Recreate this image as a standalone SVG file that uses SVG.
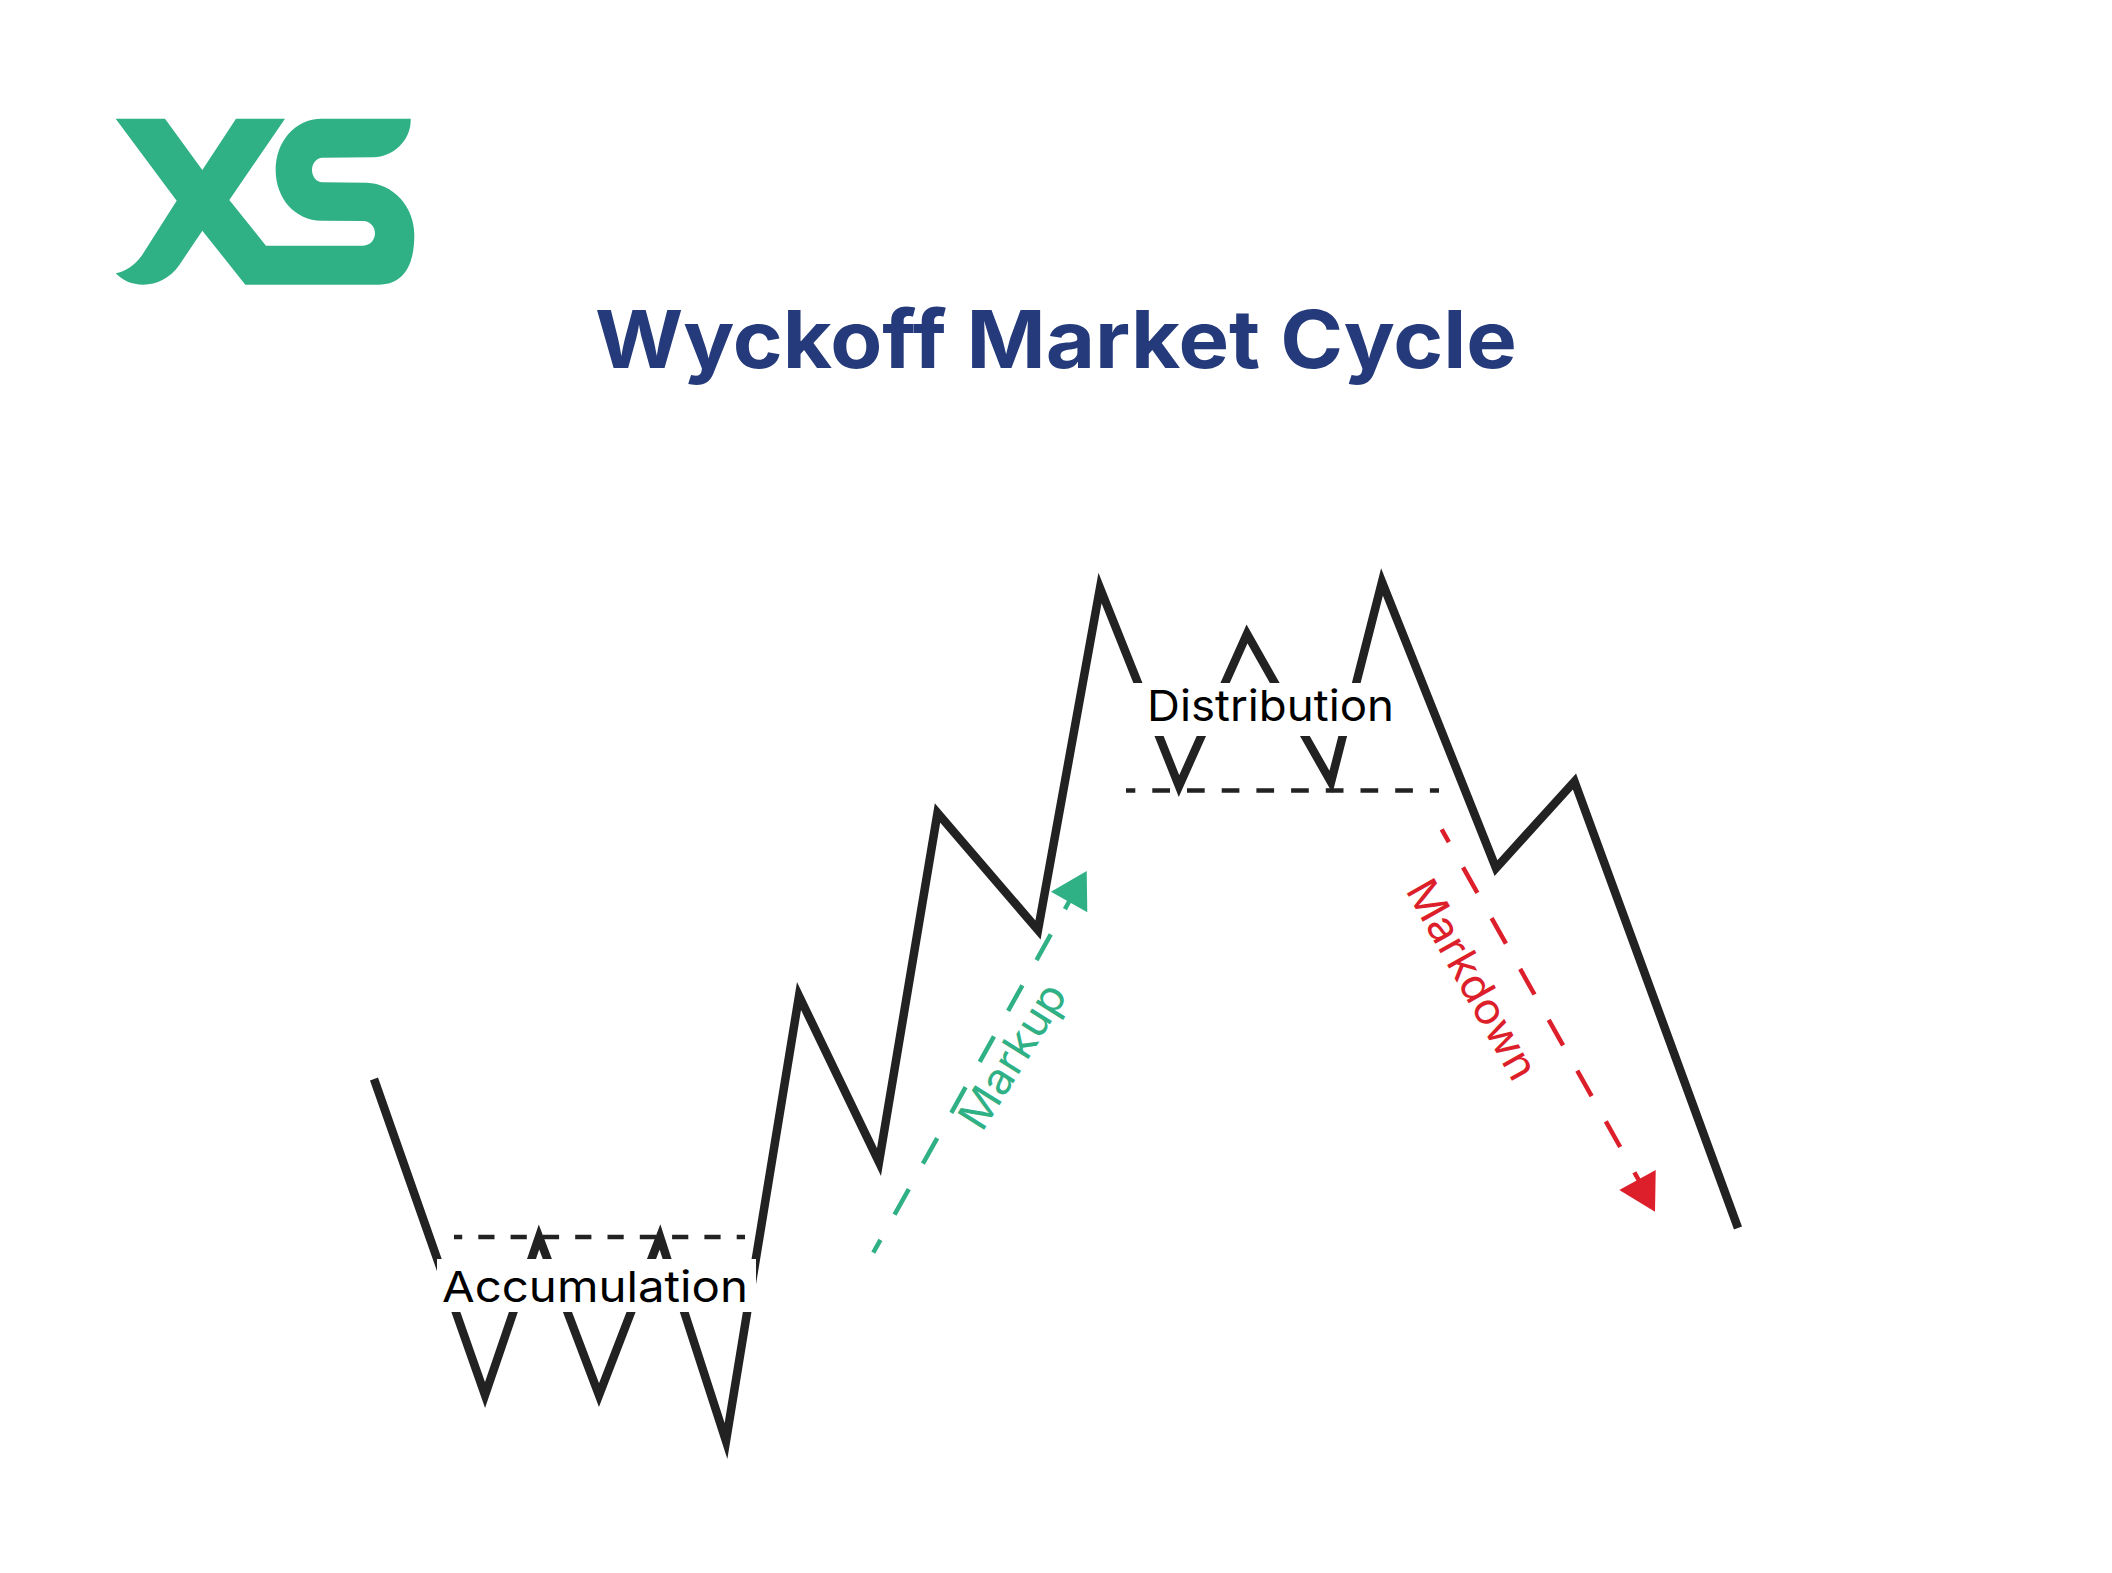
<svg xmlns="http://www.w3.org/2000/svg" width="2112" height="1573" viewBox="0 0 2112 1573">
<style>
.price{fill:none;stroke:#222222;stroke-width:8.5;stroke-linejoin:miter;stroke-miterlimit:12}
.level{fill:none;stroke:#222222;stroke-width:4.5}
.up{fill:none;stroke:#30b085;stroke-width:4.5;stroke-dasharray:29.3 29;stroke-dashoffset:14.7}
.down{fill:none;stroke:#dc1f2a;stroke-width:4.5;stroke-dasharray:29.3 29;stroke-dashoffset:14.7}
.label{font-family:"Inter","Liberation Sans",sans-serif;font-size:43px;font-weight:400}
.title{font-family:"Inter","Liberation Sans",sans-serif;font-size:80px;font-weight:700;fill:#253a7a}
</style>
<rect width="2112" height="1573" fill="#ffffff"/>
<g id="logo"><path transform="translate(90 90) scale(.33333)" fill="#30b085" d="M77 86L225 86L337 240L438 86L585 86L418 330L528 467L820 467C840 467 855 450 855 430C855 410 840 393 820 393L695 392C615 392 557 325 557 240C557 155 615 86 695 86L962 86C965 150 910 202 850 202L697 203C680 203 666 220 666 240C666 260 680 277 697 277L830 278C910 280 973 350 973 435C973 520 945 584 865 584L466 584L337 422L268 525C240 565 200 584 160 584C125 584 98 572 77 550C105 545 135 525 155 497L260 332Z"/></g>
<g id="title"><text class="title" x="595" y="368" textLength="922" lengthAdjust="spacingAndGlyphs">Wyckoff Market Cycle</text></g>
<g id="connectors">
<path id="price-line" class="price" d="M374 1079L485 1395L539 1237L599 1395L660 1237L726 1441L799 996L879 1162L937.5 813L1038 930L1100 588L1179 786L1247 634L1331 782L1382 582L1496 868L1574.5 781.5L1738 1228"/>
<path id="accumulation-level" class="level" stroke-dasharray="16.2 16.1" stroke-dashoffset="8" d="M454 1237H745"/>
<path id="distribution-level" class="level" stroke-dasharray="17.7 17" stroke-dashoffset="8.4" d="M1126 790.5H1439"/>
<path id="markup-line" class="up" d="M873.3 1252.7L1070 900"/>
<polygon id="markup-head" fill="#30b085" points="1051,891.7 1086.7,871 1087.3,912.3"/>
<path id="markdown-line" class="down" d="M1441.7 829.3L1638.7 1180"/>
<polygon id="markdown-head" fill="#dc1f2a" points="1619.3,1190 1655.7,1170 1655,1211.7"/>
</g>
<g id="accumulation"><rect x="437" y="1259" width="319" height="53" fill="#ffffff"/><text class="label" x="442" y="1302" textLength="306" lengthAdjust="spacingAndGlyphs" fill="#000000">Accumulation</text></g>
<g id="distribution"><rect x="1130" y="683" width="268" height="53" fill="#ffffff"/><text class="label" x="1147" y="721" textLength="247" lengthAdjust="spacingAndGlyphs" fill="#000000">Distribution</text></g>
<g id="markup"><text class="label" transform="translate(982 1133) rotate(-58)" textLength="163" lengthAdjust="spacingAndGlyphs" fill="#30b085">Markup</text></g>
<g id="markdown"><text class="label" transform="translate(1405 890) rotate(60.7)" textLength="222" lengthAdjust="spacingAndGlyphs" fill="#dc1f2a">Markdown</text></g>
</svg>
